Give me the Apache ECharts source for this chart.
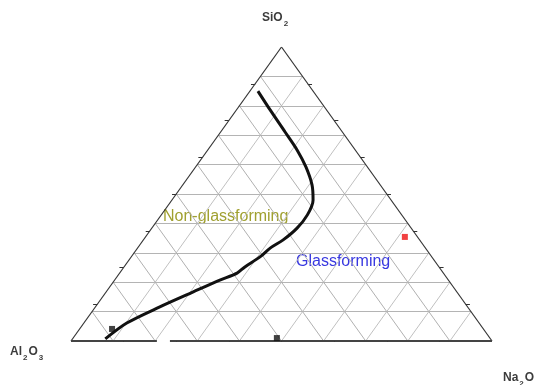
<!DOCTYPE html>
<html>
<head>
<meta charset="utf-8">
<script src="https://cdn.jsdelivr.net/npm/echarts@6/dist/echarts.min.js"></script>
<style>
  html, body { margin: 0; padding: 0; background: #fff; }
  #chart { width: 537px; height: 385px; }
</style>
</head>
<body>
<div id="chart"></div>
<script>
// Ternary diagram SiO2 (top) - Al2O3 (bottom left) - Na2O (bottom right), values in mol %.

// Boundary between glass forming and non-glass forming compositions
const boundarySiO2 = [85.0, 78.6, 71.1, 65.0, 59.2, 53.1, 48.0, 42.9, 38.4, 34.4, 31.6, 28.6, 25.2, 23.1, 20.7, 16.7, 11.6, 6.1, 0.7];
const boundaryNa2O = [1.9, 8.0, 15.3, 21.2, 26.2, 30.7, 33.5, 34.7, 34.5, 33.2, 31.5, 30.6, 28.7, 27.9, 25.0, 20.7, 15.3, 10.2, 7.8];

// Single compositions
const blackSiO2 = [4.1, 1.0];
const blackNa2O = [7.7, 48.4];
const redSiO2 = [35.4];
const redNa2O = [61.6];

// Grid and tick steps along each side (%)
const gridSteps = [10, 20, 30, 40, 50, 60, 70, 80, 90];
const tickSteps = [12.5, 25, 37.5, 50, 62.5, 75, 87.5];

const regionNames = ['Non-glassforming', 'Glassforming'];

// ternary (SiO2 %, Na2O %) -> cartesian [x, y] in unit triangle space
function pt(s, n) { return [n / 100 + s / 200, s / 100]; }

const horiz = gridSteps.map(k => ({ coords: [pt(k, 0), pt(k, 100 - k)] }));
const constNa = gridSteps.map(k => ({ coords: [pt(0, k), pt(100 - k, k)] }));
const constAl = gridSteps.map(k => ({ coords: [pt(0, 100 - k), pt(100 - k, 0)] }));

const ticks = [];
tickSteps.forEach(t => {
  ticks.push({ coords: [pt(t, 0), pt(t, -1)] });           // left side
  ticks.push({ coords: [pt(t, 100 - t), pt(t, 101 - t)] }); // right side
  ticks.push({ coords: [pt(0, t), pt(-1.1, t + 0.55)] });    // base
});

const boundary = boundarySiO2.map((s, i) => pt(s, boundaryNa2O[i]));
const blackPts = blackSiO2.map((s, i) => pt(s, blackNa2O[i]));
const redPts = redSiO2.map((s, i) => pt(s, redNa2O[i]));

const chart = echarts.init(document.getElementById('chart'));

const FAMILY = ' "Liberation Sans", Arial, sans-serif';
const measureCtx = document.createElement('canvas').getContext('2d');

// chemical formula with lowered subscript digits
function formula(parts, x, y) {
  const els = [];
  let cx = x;
  parts.forEach(([txt, sub]) => {
    const font = (sub ? 'bold 8px' : 'bold 12px') + FAMILY;
    els.push({
      type: 'text', left: cx, top: sub ? y + 8 : y,
      style: { text: txt, fill: '#3c3c3c', font: font }
    });
    measureCtx.font = font;
    cx += measureCtx.measureText(txt).width + 1;
  });
  return els;
}

const option = {
  animation: false,
  backgroundColor: '#ffffff',
  grid: { left: 71, right: 45, top: 47, bottom: 44 },
  xAxis: { type: 'value', min: 0, max: 1, show: false },
  yAxis: { type: 'value', min: 0, max: 1, show: false },
  series: [
    { type: 'lines', coordinateSystem: 'cartesian2d', silent: true,
      lineStyle: { color: '#b4b4b4', width: 1, opacity: 1 }, data: horiz },
    { type: 'lines', coordinateSystem: 'cartesian2d', silent: true,
      lineStyle: { color: '#c0c0c0', width: 1, opacity: 1 }, data: constNa },
    { type: 'lines', coordinateSystem: 'cartesian2d', silent: true,
      lineStyle: { color: '#b0b0b0', width: 1, opacity: 1 }, data: constAl },
    // triangle sides
    { type: 'lines', coordinateSystem: 'cartesian2d', silent: true,
      lineStyle: { color: '#333333', width: 1.2, opacity: 1 },
      data: [
        { coords: [pt(0, 0), pt(100, 0)] },
        { coords: [pt(100, 0), pt(0, 100)] }
      ] },
    { type: 'lines', coordinateSystem: 'cartesian2d', silent: true,
      lineStyle: { color: '#444444', width: 2, opacity: 1 },
      data: [
        { coords: [pt(0, 0), pt(0, 20.4)] },
        { coords: [pt(0, 23.5), pt(0, 100)] }
      ] },
    { type: 'lines', coordinateSystem: 'cartesian2d', silent: true,
      lineStyle: { color: '#333333', width: 1, opacity: 1 }, data: ticks },
    // boundary curve
    { type: 'line', data: boundary, smooth: 0.3, showSymbol: false, silent: true,
      lineStyle: { color: '#111111', width: 3 } },
    { type: 'scatter', data: blackPts, symbol: 'rect', symbolSize: 6, silent: true,
      itemStyle: { color: '#111111' } },
    { type: 'scatter', data: redPts, symbol: 'rect', symbolSize: 6, silent: true,
      itemStyle: { color: '#ee1111' } }
  ],
  graphic: [
    ...formula([['SiO', false], ['2', true]], 262, 12),
    ...formula([['Al', false], ['2', true], ['O', false], ['3', true]], 10, 346),
    ...formula([['Na', false], ['2', true], ['O', false]], 503, 372),
    { type: 'text', left: 163, top: 209,
      style: { text: regionNames[0], fill: '#a0a030', font: '16px' + FAMILY } },
    { type: 'text', left: 296, top: 254,
      style: { text: regionNames[1], fill: '#3838e0', font: '16px' + FAMILY } }
  ]
};
chart.setOption(option);
</script>
</body>
</html>
